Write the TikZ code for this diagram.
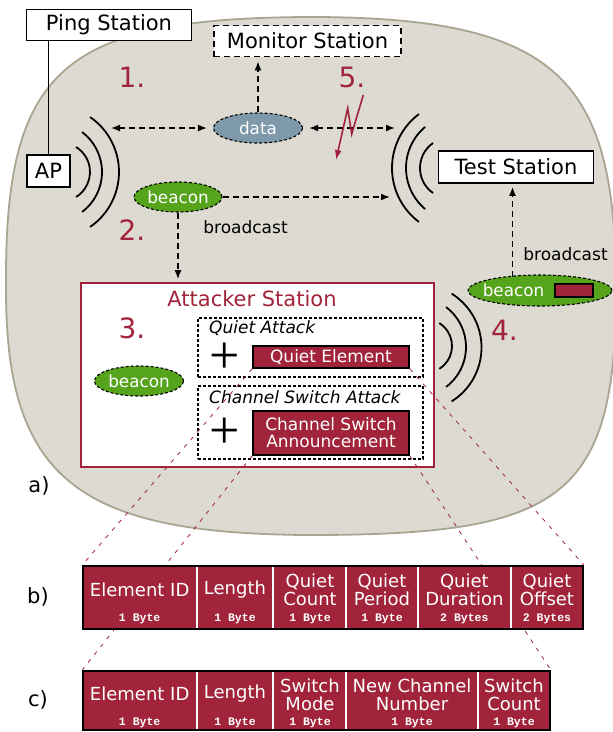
\documentclass[tikz,border=0pt]{standalone}
\usepackage{fontspec}
\setmainfont{DejaVu Sans}
\newfontfamily\bytefam{Liberation Mono}
\newfontfamily\plusfam{Liberation Serif}
\usetikzlibrary{shapes.geometric,arrows.meta}
\definecolor{crim}{HTML}{A1243B}
\definecolor{leaf}{HTML}{56A31C}
\definecolor{slate}{HTML}{7D99AA}
\definecolor{blobfill}{HTML}{DCDAD1}
\definecolor{blobline}{HTML}{A9A591}
\newcommand\szbig{\fontsize{21}{24}\selectfont}
\newcommand\szmid{\fontsize{17}{17}\selectfont}
\newcommand\szell{\fontsize{16.8}{17}\selectfont}
\newcommand\sznum{\fontsize{28}{32}\selectfont}
\newcommand\szfld{\fontsize{18}{18}\selectfont}
\newcommand\szbyte{\bytefam\bfseries\fontsize{11.5}{12}\selectfont}
\newcommand\szplus{\plusfam\fontsize{54}{54}\selectfont}
\pgfdeclarelayer{front}
\pgfsetlayers{main,front}
\begin{document}
\begin{tikzpicture}[x=1pt,y=-1pt,
  box/.style={draw, line width=1.6pt, fill=white, inner sep=0pt, font=\szbig},
  ell/.style={ellipse, draw, line width=1.1pt, dash pattern=on 3pt off 2pt, inner sep=0pt, text=white, font=\szell},
  arr/.style={line width=1.6pt, dash pattern=on 6pt off 4pt, -{Latex[length=9pt,width=7pt]}},
  darr/.style={arr, {Latex[length=9pt,width=7pt]}-{Latex[length=9pt,width=7pt]}},
  wave/.style={line width=1.8pt},
  num/.style={text=crim, font=\sznum, inner sep=0pt},
  lbl/.style={font=\szmid, inner sep=0pt},
  zoomline/.style={draw=crim, line width=0.8pt, dash pattern=on 4pt off 6pt},
  attack/.style={draw, line width=1.5pt, dash pattern=on 3pt off 2pt, fill=white, inner sep=0pt},
  elem/.style={draw, line width=1.6pt, fill=crim, text=white, inner sep=0pt, font=\szmid, align=center},
  bar/.style={draw, line width=1.8pt, fill=crim, inner sep=0pt},
  sep/.style={draw=white, line width=2pt},
  fld/.style={text=white, font=\szfld, align=center, inner sep=0pt},
  byt/.style={text=white, font=\szbyte, inner sep=0pt},
  plus/.style={font=\szplus, inner sep=0pt},
]
\useasboundingbox (0,0) rectangle (613,732);

% environment blob
\draw[fill=blobfill, draw=blobline, line width=1.8pt]
  (6,290) .. controls (4,70) and (60,18) .. (310,17)
  .. controls (560,17) and (616,80) .. (616,290)
  .. controls (616,500) and (560,535) .. (310,535)
  .. controls (80,534) and (6,480) .. (6,290) -- cycle;

% waves of the AP
\draw[wave] (60.7,172) ++(-58.5:29.3pt) arc[start angle=-58.5,end angle=58.5,radius=29.3pt];
\draw[wave] (52,172) ++(-53:50pt) arc[start angle=-53,end angle=53,radius=50pt];
\draw[wave] (52.3,172) ++(-55.5:66.7pt) arc[start angle=-55.5,end angle=55.5,radius=66.7pt];
% waves of the test station
\draw[wave] (450.5,168) ++(125:30.5pt) arc[start angle=125,end angle=235,radius=30.5pt];
\draw[wave] (459.7,168) ++(130.2:53.7pt) arc[start angle=130.2,end angle=229.8,radius=53.7pt];
\draw[wave] (459.5,168) ++(127:67.5pt) arc[start angle=127,end angle=233,radius=67.5pt];
% waves of the attacker
\draw[wave] (425,346) ++(-58:27pt) arc[start angle=-58,end angle=58,radius=27pt];
\draw[wave] (416,347) ++(-53:50pt) arc[start angle=-53,end angle=53,radius=50pt];
\draw[wave] (418,347.5) ++(-58:63.5pt) arc[start angle=-58,end angle=58,radius=63.5pt];

% stations
\node[box, minimum width=165pt, minimum height=31pt] (ping) at (109,25) {Ping Station};
\node[box, dash pattern=on 6pt off 4pt, minimum width=187pt, minimum height=31pt] (monitor) at (307.5,41) {Monitor Station};
\node[box, minimum width=43pt, minimum height=32pt] (ap) at (48.5,171) {AP};
\node[box, minimum width=155pt, minimum height=32pt] (test) at (516,167) {Test Station};
\draw[line width=1.6pt] (ping.south -| ap.north) -- (ap.north);

% step labels
\node[num] (n1) at (132,77) {1.};
\node[num] (n5) at (352,77) {5.};
\node[num] (n2) at (132,230) {2.};
\node[num] (n4) at (504.5,330) {4.};

% data
\node[ell, fill=slate, minimum width=89pt, minimum height=30pt] (data) at (258,128) {data};
\coordinate (apr) at (111,128);
\coordinate (tsl) at (395,128);
\draw[darr, shorten >=6pt] (apr) -- (data.west);
\draw[darr, shorten <=6pt] (data.east) -- (tsl);
\draw[arr, shorten >=4pt] (data.north) -- (data.north |- monitor.south);

% lightning
\coordinate (z1) at (363.3,95);
\coordinate (z2) at (351.7,134);
\coordinate (z3) at (347.7,108.3);
\coordinate (z4) at (336,160);
\draw[crim, line width=1.6pt, line join=miter, -{Latex[length=10pt,width=7pt]}] (z1) -- (z2) -- (z3) -- (z4);

% beacon broadcast
\node[ell, fill=leaf, minimum width=88pt, minimum height=30pt] (beaconA) at (178,197) {beacon};
\coordinate (tsb) at (390,197);
\draw[arr] (beaconA.east) -- (tsb);
\node[lbl] (bc1) at (245.5,227) {broadcast};

% attacker station
\node[draw=crim, line width=1.6pt, fill=white, minimum width=353pt, minimum height=184pt, inner sep=0pt] (attacker) at (257.5,375) {};
\draw[arr, shorten >=3pt] (beaconA.south) -- (beaconA.south |- attacker.north);
\node[text=crim, font=\szbig, inner sep=0pt] (atitle) at (252,299) {Attacker Station};
\node[num] (n3) at (132,328) {3.};
\node[ell, fill=leaf, minimum width=89pt, minimum height=30pt] (beaconC) at (139,381) {beacon};
\node[attack, minimum width=225pt, minimum height=59pt] (qa) at (310.5,347.5) {};
\node[font=\szmid\itshape, anchor=west, inner sep=0pt] (qat) at (209,328) {Quiet Attack};
\node[plus] (plus1) at (225,358) {+};
\node[elem, minimum width=156pt, minimum height=22pt] (qe) at (331,357) {Quiet Element};
\node[attack, minimum width=225pt, minimum height=73pt] (csa) at (310.5,422.5) {};
\node[font=\szmid\itshape, anchor=west, inner sep=0pt] (csat) at (209,397) {Channel Switch Attack};
\node[plus] (plus2) at (225,433) {+};
\node[elem, minimum width=156pt, minimum height=44pt] (csae) at (331,433) {Channel Switch\\Announcement};

% beacon with element
\node[ell, fill=leaf, minimum width=144pt, minimum height=31pt] (beaconB) at (540,290.5) {};
\node[text=white, font=\szell, inner sep=0pt] (bBtext) at (513.5,290.5) {beacon};
\node[draw, line width=1.4pt, fill=crim, minimum width=38pt, minimum height=13pt, inner sep=0pt] (bBrect) at (574,290.5) {};
\coordinate (bup) at (512.5,276.5);
\draw[arr, shorten >=3pt] (bup) -- (bup |- test.south);
\node[lbl] (bc2) at (565.5,254) {broadcast};

\node[font=\szbig, inner sep=0pt] (la) at (39,486) {a)};
\node[font=\szbig, inner sep=0pt] (lb) at (38,597) {b)};
\node[font=\szbig, inner sep=0pt] (lc) at (38,700) {c)};

% element bars
\begin{pgfonlayer}{front}
\node[bar, minimum width=500pt, minimum height=63pt] (barb) at (333,597.5) {};
\foreach \sx in {196.5,273.4,346.4,418,510.8} \draw[sep] (\sx,567) -- (\sx,628);
\node[fld] (b1) at (139.7,590) {Element ID};
\node[fld] (b2) at (235,590) {Length};
\node[fld] (b3) at (310,590) {Quiet\\Count};
\node[fld] (b4) at (382,590) {Quiet\\Period};
\node[fld] (b5) at (464.4,590) {Quiet\\Duration};
\node[fld] (b6) at (547,590) {Quiet\\Offset};
\node[byt] (bb1) at (139.7,619) {1 Byte};
\node[byt] (bb2) at (235,619) {1 Byte};
\node[byt] (bb3) at (310,619) {1 Byte};
\node[byt] (bb4) at (382,619) {1 Byte};
\node[byt] (bb5) at (464.4,619) {2 Bytes};
\node[byt] (bb6) at (547,619) {2 Bytes};

\node[bar, minimum width=467pt, minimum height=59pt] (barc) at (316.5,700.5) {};
\foreach \sx in {196.5,273.4,346.4,478} \draw[sep] (\sx,672) -- (\sx,729);
\node[fld] (c1) at (139.7,694) {Element ID};
\node[fld] (c2) at (235,694) {Length};
\node[fld] (c3) at (310,695) {Switch\\Mode};
\node[fld] (c4) at (412,695) {New Channel\\Number};
\node[fld] (c5) at (514,695) {Switch\\Count};
\node[byt] (cb1) at (139.7,723) {1 Byte};
\node[byt] (cb2) at (235,723) {1 Byte};
\node[byt] (cb3) at (310,723) {1 Byte};
\node[byt] (cb4) at (412,723) {1 Byte};
\node[byt] (cb5) at (514,723) {1 Byte};
\end{pgfonlayer}

% zoom lines
\draw[zoomline] (qe.south west) -- (barb.north west);
\draw[zoomline] (qe.south east) -- (barb.north east);
\draw[zoomline] (csae.south west) -- (barc.north west);
\draw[zoomline] (csae.south east) -- (barc.north east);
\end{tikzpicture}
\end{document}
